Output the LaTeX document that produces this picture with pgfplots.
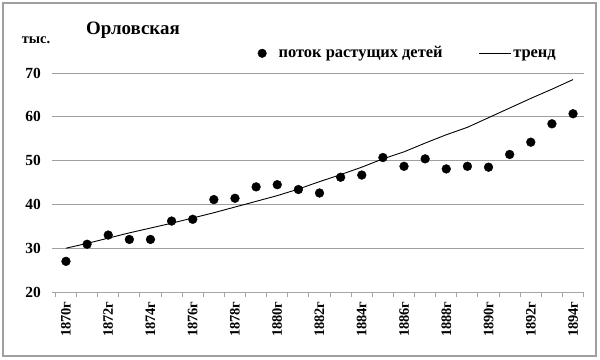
\documentclass[border=0pt]{standalone}
\usepackage{fontspec}
\setmainfont{Liberation Serif}
\usepackage{pgfplots}
\pgfplotsset{compat=1.18}
\begin{document}
\begin{tikzpicture}[x=1bp,y=1bp]
\useasboundingbox (0,0) rectangle (600,359);
\draw[gray!75, line width=1.6bp] (3,3) rectangle (596,356);
\node[font=\fontsize{19}{20}\selectfont\bfseries] at (133,329) {Орловская};
\node[font=\fontsize{14.5}{15}\selectfont\bfseries] at (36,319) {тыс.};
\begin{axis}[
  at={(55.4bp,67bp)}, anchor=south west,
  scale only axis, width=528.2bp, height=219bp,
  xmin=-0.5, xmax=24.5, ymin=20, ymax=70,
  axis x line*=bottom, axis y line*=left,
  x axis line style={gray!70, line width=1bp, -},
  y axis line style={draw=none},
  xtick={0,2,...,24},
  xticklabels={1870г,1872г,1874г,1876г,1878г,1880г,1882г,1884г,1886г,1888г,1890г,1892г,1894г},
  major x tick style={draw=none},
  minor xtick={-0.5,0.5,...,24.5},
  minor x tick style={gray!70, line width=1bp},
  minor tick length=5bp,
  tick align=outside,
  major tick length=3bp,
  y tick style={gray!75, line width=1bp},
  xticklabel style={rotate=90, anchor=east, font=\fontsize{14.5}{15}\selectfont\bfseries, xshift=-3bp},
  ytick={20,30,...,70},
  ymajorgrids, grid style={gray!75, line width=1bp},
  yticklabel style={font=\fontsize{15.5}{16}\selectfont\bfseries, xshift=-8bp},
  /pgf/number format/assume math mode=true,
  clip=false,
  legend columns=2,
  legend style={at={(0.667,1.09)}, anchor=center, draw=none, fill=none,
    font=\fontsize{16.5}{17}\selectfont\bfseries,
    nodes={text height=0.85em, text depth=0pt},
    /tikz/every even column/.append style={column sep=34bp}},
]
\addplot[only marks, mark=*, mark size=4.4bp, black,
  legend image code/.code={\fill[black] (0.3cm,0cm) circle (4.3bp);}]
coordinates {
(0,27.0) (1,30.9) (2,33.0) (3,32.0) (4,32.0) (5,36.2) (6,36.6) (7,41.1) (8,41.4)
(9,44.0) (10,44.5) (11,43.4) (12,42.6) (13,46.2) (14,46.7) (15,50.7) (16,48.7)
(17,50.4) (18,48.1) (19,48.7) (20,48.5) (21,51.4) (22,54.2) (23,58.4) (24,60.7)};
\addlegendentry{\hspace{10bp}поток растущих детей}
\addplot[black, line width=0.9bp,
  legend image code/.code={\draw[black, line width=0.9bp] (-0.4cm,0cm) -- (0.72cm,0cm);}]
coordinates {
(0,30.0) (1,31.1) (2,32.3) (3,33.5) (4,34.6) (5,35.7) (6,36.9) (7,38.1) (8,39.4)
(9,40.7) (10,42.0) (11,43.5) (12,45.2) (13,46.8) (14,48.5) (15,50.4) (16,52.0)
(17,54.0) (18,55.9) (19,57.6) (20,59.8) (21,62.0) (22,64.2) (23,66.3) (24,68.5)};
\addlegendentry{тренд}
\end{axis}
\end{tikzpicture}
\end{document}
